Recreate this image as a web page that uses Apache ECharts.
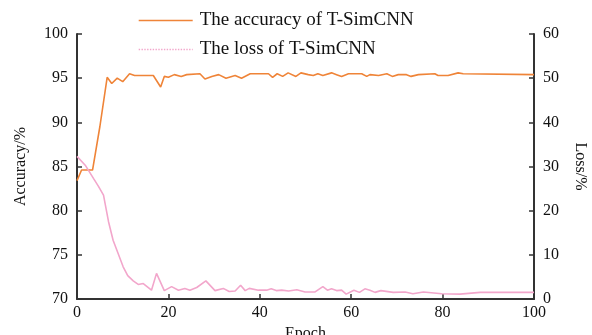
<!DOCTYPE html>
<html>
<head>
<meta charset="utf-8">
<script src="https://cdn.jsdelivr.net/npm/echarts@6/dist/echarts.min.js"></script>
<style>html,body{margin:0;padding:0;background:#fff;}#c{width:592px;height:335px;}</style>
</head>
<body>
<div id="c"></div>
<script>
const accEpochs = [0,1,3.4,5,6.6,7.6,8.8,10,11.5,12.6,16.7,18.3,19.1,20,21.3,22.8,24,26.9,28,29.5,31,32.6,34.6,36,37.9,41.9,42.8,43.8,45,46.2,47.9,49,50.6,51.7,52.7,53.8,55.7,56.8,57.9,59.4,62.3,63.4,64.1,66,67.8,69,70.3,72.1,73.1,74.7,78.3,79,81.2,83.4,84.5,100];
const accValues = [83.4,84.6,84.6,89.5,95.1,94.4,95.0,94.6,95.5,95.3,95.3,94.0,95.2,95.1,95.4,95.2,95.4,95.5,94.9,95.2,95.4,95.0,95.3,95.0,95.5,95.5,95.1,95.5,95.2,95.6,95.2,95.6,95.4,95.3,95.5,95.3,95.6,95.4,95.2,95.5,95.5,95.2,95.4,95.3,95.5,95.2,95.4,95.4,95.2,95.4,95.5,95.3,95.3,95.6,95.5,95.4];
const lossEpochs = [0,1.8,3.6,4.7,5.8,6.9,7.9,9,10.1,11.1,12.3,13.4,14.5,16.3,17.4,19.1,20.7,22.2,23.6,24.7,26.2,28.2,30.2,32,33.3,34.6,35.8,36.8,37.7,39.7,41.5,42.5,43.6,44.8,46.3,48.1,49.9,52.1,53.8,54.8,55.7,56.8,57.9,58.9,60.6,61.8,63,64.1,65.2,66.5,69.2,71.8,73.5,75.8,79.8,83.8,88.2,100];
const lossValues = [32.3,30.3,27.3,25.5,23.5,17.5,13.3,10.3,7.3,5.3,4.1,3.3,3.5,2.0,5.8,1.9,2.8,2.0,2.4,2.0,2.6,4.1,1.9,2.4,1.7,1.8,3.1,1.9,2.4,2.0,2.0,2.3,1.9,2.0,1.8,2.1,1.6,1.6,2.8,2.0,2.3,1.9,2.0,1.1,2.0,1.5,2.3,2.0,1.5,1.9,1.5,1.6,1.2,1.6,1.2,1.1,1.5,1.5];
const seriesNames = ['The accuracy of T-SimCNN','The loss of T-SimCNN'];
const axisNames = {x:'Epoch', left:'Accuracy/%', right:'Loss/%'};

const FONT = '"Liberation Serif", "Times New Roman", serif';
const AXIS_COLOR = '#333';
const ACC_COLOR = '#EF8438';
const LOSS_COLOR = '#F2A6CB';

const chart = echarts.init(document.getElementById('c'), null, {renderer:'canvas'});
const axisCommon = {
  axisLine:{show:true, lineStyle:{color:AXIS_COLOR, width:2}},
  axisTick:{show:true, inside:true, length:5, lineStyle:{color:AXIS_COLOR, width:1.5}},
  splitLine:{show:false},
  axisLabel:{color:'#111', fontFamily:FONT, fontSize:16},
  nameTextStyle:{color:'#111', fontFamily:FONT, fontSize:16}
};
chart.setOption({
  animation:false,
  backgroundColor:'#fff',
  textStyle:{fontFamily:FONT},
  grid:{left:77, right:58, top:34, bottom:36, containLabel:false, outerBoundsMode:'none'},
  legend:{
    orient:'vertical', left:133, top:6, itemWidth:54, itemHeight:14, itemGap:10,
    textStyle:{fontFamily:FONT, fontSize:19, color:'#111', padding:[0,0,0,2]},
    itemStyle:{opacity:0},
    data:[
      {name:seriesNames[0], itemStyle:{opacity:0}, lineStyle:{color:ACC_COLOR, width:1.4}},
      {name:seriesNames[1], itemStyle:{opacity:0}, lineStyle:{color:LOSS_COLOR, type:'dotted', width:1.4}}
    ]
  },
  xAxis:Object.assign({}, axisCommon, {
    type:'value', min:0, max:100, interval:20,
    name:axisNames.x, nameLocation:'middle', nameGap:20,
    axisLabel:Object.assign({}, axisCommon.axisLabel, {margin:6})
  }),
  yAxis:[
    Object.assign({}, axisCommon, {
      type:'value', min:70, max:100, interval:5, position:'left',
      name:axisNames.left, nameLocation:'middle', nameRotate:90, nameGap:48,
      axisLabel:Object.assign({}, axisCommon.axisLabel, {margin:9})
    }),
    Object.assign({}, axisCommon, {
      type:'value', min:0, max:60, interval:10, position:'right',
      name:axisNames.right, nameLocation:'middle', nameRotate:-90, nameGap:38,
      axisLabel:Object.assign({}, axisCommon.axisLabel, {margin:9})
    })
  ],
  series:[
    {name:seriesNames[0], type:'line', yAxisIndex:0, symbol:'none', z:2,
     lineStyle:{color:ACC_COLOR, width:1.6}, itemStyle:{color:ACC_COLOR},
     data:accEpochs.map((e,i)=>[e, accValues[i]])},
    {name:seriesNames[1], type:'line', yAxisIndex:1, symbol:'none', z:3,
     lineStyle:{color:LOSS_COLOR, width:1.6}, itemStyle:{color:LOSS_COLOR},
     data:lossEpochs.map((e,i)=>[e, lossValues[i]])}
  ]
});
</script>
</body>
</html>
